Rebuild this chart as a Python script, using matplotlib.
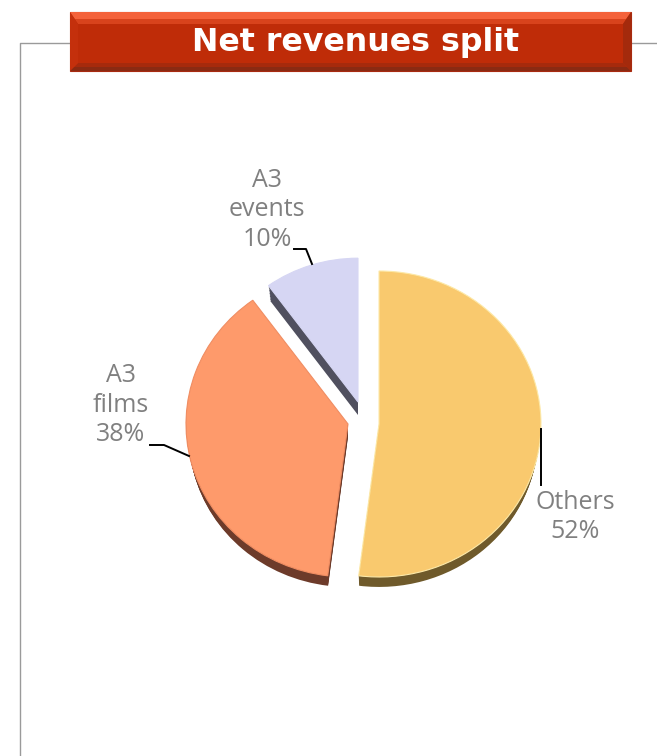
import matplotlib
matplotlib.use("Agg")
from matplotlib import pyplot as plt
from matplotlib.patches import Polygon, Rectangle

# slices, clockwise from 12 o'clock
categories = ["Others", "A3\nfilms", "A3\nevents"]
shares = [52, 38, 10]
title = "Net revenues split"

top_colors = ["#f9c96e", "#fe9a6b", "#d6d6f3"]
side_colors = ["#6f5a2b", "#6d3b2a", "#50505f"]
edge_colors = ["#fde9a8", "#f08d62", "#d6d6f3"]
# where each slice apex sits in pixels, and how big it is
apexes = [(379, 424), (348, 424), (358, 402)]
radii = [1.0, 1.0, 0.94]

W, H = 657, 756
RX, RY = 162, 153      # the pie is tilted, so it is an ellipse
DEPTH = 10
GREY = "#808080"


def draw_pie(ax, colors, dy=0, shrink=1.0, edges=None):
    """one layer of the pie, moved down by dy pixels"""
    wedges, _ = ax.pie(shares, colors=colors, startangle=90, counterclock=False)
    for i, w in enumerate(wedges):
        w.set_center((apexes[i][0]/RX, -(apexes[i][1]+dy)/RY))
        w.set_radius(radii[i]*shrink)
        if edges is not None:
            w.set_edgecolor(edges[i])
            w.set_linewidth(0.8)


fig = plt.figure(figsize=(W/100, H/100), dpi=100)

# background axes in pixel coordinates
bg = fig.add_axes([0, 0, 1, 1])
bg.set_xlim(0, W)
bg.set_ylim(H, 0)
bg.axis("off")

# frame behind the banner
bg.plot([W, 20, 20], [43, 43, H], color="#9a9a9a", linewidth=1.0)

# banner
bg.add_patch(Rectangle((70, 12), 561, 59, facecolor="#bf2c08", edgecolor="#a82a10", linewidth=0.8, zorder=2))
bg.add_patch(Polygon([(70, 12), (631, 12), (623, 24), (78, 24)], facecolor="#d8431c", edgecolor="none", zorder=3))
bg.add_patch(Polygon([(70, 12), (631, 12), (626, 19), (75, 19)], facecolor="#f4623a", edgecolor="none", zorder=3))
bg.add_patch(Polygon([(70, 71), (631, 71), (623, 63), (78, 63)], facecolor="#a62a0c", edgecolor="none", zorder=3))
bg.add_patch(Polygon([(70, 71), (631, 71), (627, 67), (74, 67)], facecolor="#8a2a12", edgecolor="none", zorder=3))
bg.add_patch(Polygon([(70, 12), (78, 24), (78, 63), (70, 71)], facecolor="#c4300c", edgecolor="none", zorder=3))
bg.add_patch(Polygon([(631, 12), (623, 24), (623, 63), (631, 71)], facecolor="#a42a0c", edgecolor="none", zorder=3))
bg.text(356, 42, title, color="white", fontsize=22.8, fontweight="bold",
        family="DejaVu Sans", ha="center", va="center", zorder=4)

# pie axes, 1 unit = RX by RY pixels
ax = fig.add_axes([0, 0, 1, 1])
ax.patch.set_alpha(0)
# stack of darker layers for the depth, narrowing so the rim only shows low down
for dy in range(DEPTH, 0, -1):
    draw_pie(ax, side_colors, dy=dy*1.3, shrink=1-0.002*dy)
draw_pie(ax, top_colors, edges=edge_colors)
ax.set_aspect("auto")
ax.set_xlim(0, W/RX)
ax.set_ylim(-H/RY, 0)
ax.axis("off")

# labels and leader lines
fg = fig.add_axes([0, 0, 1, 1])
fg.set_xlim(0, W)
fg.set_ylim(H, 0)
fg.axis("off")
label_pos = [(575, 517), (121, 405), (267, 210)]
leaders = [[(541, 429), (541, 485)],
           [(150, 445), (164, 445), (189, 456)],
           [(294, 249), (306, 249), (312, 264)]]
for cat, share, pos, line in zip(categories, shares, label_pos, leaders):
    fg.text(pos[0], pos[1], "%s\n%d%%" % (cat, share), color=GREY, fontsize=18,
            family="Open Sans", ha="center", va="center", linespacing=1.26)
    fg.plot([p[0] for p in line], [p[1] for p in line], color="black", linewidth=1.4)

plt.savefig("out.png", dpi=100)
